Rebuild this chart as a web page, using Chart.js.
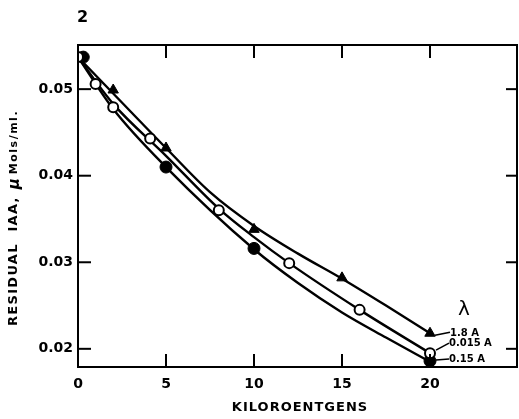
<!DOCTYPE html>
<html><head><meta charset="utf-8">
<script src="https://cdn.jsdelivr.net/npm/chart.js@4"></script>
<style>html,body{margin:0;padding:0;background:#fff;overflow:hidden;} #wrap{width:519px;height:419px;position:relative;}</style>
</head><body><div id="wrap"><canvas id="c" width="519" height="419" style="width:519px;height:419px"></canvas></div>
<script>
// ---------- data ----------
const figureNumber = "2";
const xTitle = "KILOROENTGENS";
const yTitleMain = "RESIDUAL  IAA,";
const yTitleMu = "\u03bc";
const yTitleUnit = "Mols/ml.";
const lambdaLabel = "\u03bb";
const seriesNames = ["1.8 A", "0.015 A", "0.15 A"];
const xTicks = [0, 5, 10, 15, 20];
const yTicks = [0.02, 0.03, 0.04, 0.05];

// fitted (hand-drawn) curves
const curveTopX = [0, 2, 5, 7.5, 10, 12.5, 15, 17.5, 20];
const curveTopY = [0.0537, 0.0495, 0.0432, 0.0381, 0.0342, 0.0310, 0.0281, 0.0250, 0.0218];
const curveMidX = [0, 2, 5, 8, 10, 12, 16, 20];
const curveMidY = [0.0537, 0.0483, 0.0423, 0.0362, 0.0329, 0.0299, 0.0245, 0.0195];
const curveBotX = [0, 2, 5, 10, 12.5, 15, 17.5, 20];
const curveBotY = [0.0537, 0.0477, 0.0410, 0.0315, 0.0276, 0.0242, 0.0213, 0.0185];

// measured points
const triX    = [2, 5, 10, 15, 20];
const triY    = [0.0499, 0.0432, 0.0338, 0.0282, 0.0218];
const openX   = [0, 1, 2, 4.1, 8, 12, 16, 20];
const openY   = [0.0537, 0.0506, 0.0479, 0.0443, 0.0360, 0.0299, 0.0245, 0.0195];
const filledX = [0.3, 5, 10, 20];
const filledY = [0.0537, 0.0410, 0.0316, 0.0186];

// ---------- helpers ----------
const pts = (xs, ys) => xs.map((x, i) => ({x, y: ys[i]}));
const INK = '#000';
const zeroPad = s => { s.paddingLeft = 0; s.paddingRight = 0; s.paddingTop = 0; s.paddingBottom = 0; };

const decor = {
  id: 'decor',
  afterDraw(chart) {
    const ctx = chart.ctx, a = chart.chartArea;
    const xs = chart.scales.x, ys = chart.scales.y;
    ctx.save();
    ctx.strokeStyle = INK; ctx.fillStyle = INK;
    // frame
    ctx.lineWidth = 2;
    ctx.strokeRect(a.left, a.top, a.right - a.left - 1, a.bottom - a.top);
    // inward ticks
    xTicks.forEach(v => {
      if (v === xs.min) return;
      const px = xs.getPixelForValue(v);
      ctx.beginPath(); ctx.moveTo(px, a.bottom); ctx.lineTo(px, a.bottom - 13); ctx.stroke();
      ctx.beginPath(); ctx.moveTo(px, a.top); ctx.lineTo(px, a.top + 13); ctx.stroke();
    });
    yTicks.forEach(v => {
      const py = ys.getPixelForValue(v);
      ctx.beginPath(); ctx.moveTo(a.left, py); ctx.lineTo(a.left + 13, py); ctx.stroke();
      ctx.beginPath(); ctx.moveTo(a.right - 1, py); ctx.lineTo(a.right - 12, py); ctx.stroke();
    });
    // figure number
    ctx.font = 'bold 16px "DejaVu Sans"';
    ctx.textAlign = 'left'; ctx.textBaseline = 'alphabetic';
    ctx.fillText(figureNumber, 77, 22);
    // x title
    ctx.font = 'bold 13px "DejaVu Sans"';
    ctx.letterSpacing = '1px';
    ctx.textAlign = 'center'; ctx.textBaseline = 'middle';
    ctx.fillText(xTitle, 300, 408);
    // y title (rotated)
    ctx.save();
    ctx.translate(14, 326);
    ctx.rotate(-Math.PI / 2);
    ctx.textAlign = 'left'; ctx.textBaseline = 'middle';
    ctx.font = 'bold 13px "DejaVu Sans"';
    ctx.letterSpacing = '1.3px';
    ctx.fillText(yTitleMain, 0, 0);
    let w = ctx.measureText(yTitleMain).width + 7;
    ctx.font = 'italic bold 15px "DejaVu Sans"';
    ctx.letterSpacing = '0px';
    ctx.fillText(yTitleMu, w, 1);
    w += ctx.measureText(yTitleMu).width + 4;
    ctx.font = 'bold 11px "DejaVu Sans"';
    ctx.letterSpacing = '1.5px';
    ctx.fillText(yTitleUnit, w, 0);
    ctx.restore();
    ctx.letterSpacing = '0px';
    // series labels with leaders
    const lastX = xs.getPixelForValue(20);
    const tY = ys.getPixelForValue(triY[triY.length - 1]);
    const oY = ys.getPixelForValue(openY[openY.length - 1]);
    const fY = ys.getPixelForValue(filledY[filledY.length - 1]);
    ctx.lineWidth = 1.6;
    const leader = (x1, y1, x2, y2) => { ctx.beginPath(); ctx.moveTo(x1, y1); ctx.lineTo(x2, y2); ctx.stroke(); };
    leader(lastX + 5, tY + 2, lastX + 20, tY - 1);
    leader(lastX + 6, oY - 3, lastX + 19, oY - 10);
    leader(lastX + 6, fY - 1, lastX + 19, fY - 2);
    ctx.font = 'bold 10px "DejaVu Sans"';
    ctx.textAlign = 'left'; ctx.textBaseline = 'middle';
    ctx.fillText(seriesNames[0], lastX + 20, tY);
    ctx.fillText(seriesNames[1], lastX + 19, oY - 10);
    ctx.fillText(seriesNames[2], lastX + 19, fY - 2);
    ctx.font = '20px "DejaVu Sans"';
    ctx.textAlign = 'center';
    ctx.fillText(lambdaLabel, lastX + 34, tY - 23);
    ctx.restore();
  }
};

const curveStyle = {
  type: 'line', showLine: true, pointRadius: 0, borderColor: INK, borderWidth: 2.4,
  cubicInterpolationMode: 'monotone', fill: false, order: 2
};

new Chart(document.getElementById('c'), {
  type: 'scatter',
  data: {
    datasets: [
      { label: seriesNames[0] + ' pts', data: pts(triX, triY), pointStyle: 'triangle', pointRadius: 6,
        backgroundColor: INK, borderColor: INK, borderWidth: 1, showLine: false, order: 0 },
      { label: seriesNames[1] + ' pts', data: pts(openX, openY), pointStyle: 'circle', pointRadius: 5,
        backgroundColor: '#fff', borderColor: INK, borderWidth: 2, showLine: false, order: 0 },
      { label: seriesNames[2] + ' pts', data: pts(filledX, filledY), pointStyle: 'circle', pointRadius: 6,
        backgroundColor: INK, borderColor: INK, borderWidth: 1, showLine: false, order: 1 },
      Object.assign({ label: seriesNames[0], data: pts(curveTopX, curveTopY) }, curveStyle),
      Object.assign({ label: seriesNames[1], data: pts(curveMidX, curveMidY) }, curveStyle),
      Object.assign({ label: seriesNames[2], data: pts(curveBotX, curveBotY) }, curveStyle)
    ]
  },
  options: {
    responsive: false, animation: false, devicePixelRatio: 1,
    layout: { autoPadding: false, padding: { top: 45, right: 1, left: 0, bottom: 0 } },
    plugins: { legend: { display: false }, tooltip: { enabled: false }, title: { display: false } },
    scales: {
      x: {
        type: 'linear', min: 0, max: 25,
        afterBuildTicks: s => { s.ticks = xTicks.map(v => ({ value: v })); },
        afterFit: s => { s.height = 52; zeroPad(s); },
        grid: { display: false, drawTicks: false }, border: { display: false },
        ticks: { color: INK, font: { family: 'DejaVu Sans', size: 14, weight: 'bold' }, padding: 9, maxRotation: 0,
                 callback: v => String(v) }
      },
      y: {
        type: 'linear', min: 0.0179, max: 0.0551,
        afterBuildTicks: s => { s.ticks = yTicks.map(v => ({ value: v })); },
        afterFit: s => { s.width = 78; zeroPad(s); },
        grid: { display: false, drawTicks: false }, border: { display: false },
        ticks: { color: INK, font: { family: 'DejaVu Sans', size: 14, weight: 'bold' }, padding: 5,
                 callback: v => Number(v).toFixed(2) }
      }
    }
  },
  plugins: [decor]
});
</script>
</body></html>
